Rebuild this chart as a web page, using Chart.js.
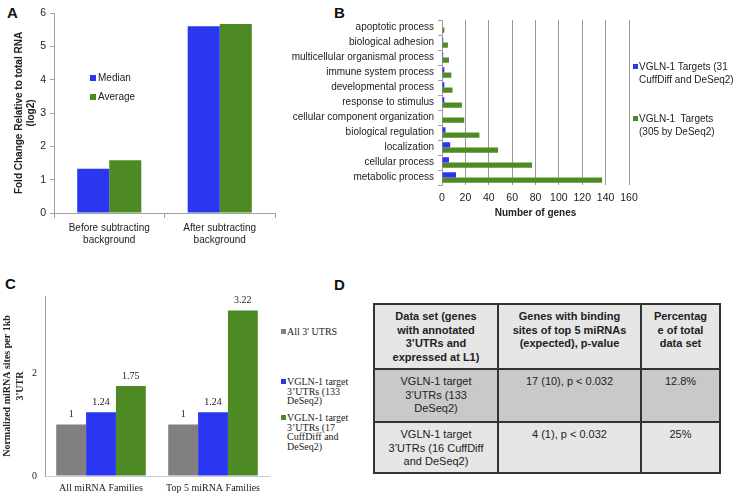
<!DOCTYPE html>
<html>
<head>
<meta charset="utf-8">
<script src="https://cdn.jsdelivr.net/npm/chart.js@4.4.1/dist/chart.umd.min.js"></script>
<style>
  html, body { margin:0; padding:0; background:#fff; width:733px; height:495px; overflow:hidden; }
  body { position:relative; font-family:"Liberation Sans", Arial, sans-serif; color:#222; }
  canvas { position:absolute; }
  .letter { position:absolute; font-weight:bold; font-size:15px; line-height:15px; color:#111; }
  .leg { position:absolute; font-size:10px; line-height:13px; white-space:nowrap; color:#222; }
  .sq { position:absolute; width:5px; height:5px; }
  .serif { font-family:"Liberation Serif", "Times New Roman", serif; line-height:9.5px; }
  table { position:absolute; left:373px; top:303px; border-collapse:collapse; font-size:11px; line-height:13.6px; color:#222; }
  td { border:2px solid #333; text-align:center; vertical-align:top; padding:5px 2px 0 2px; white-space:nowrap; box-sizing:border-box; }
  tr.h td { background:#e6e6e6; font-weight:bold; height:65px; }
  tr.r1 td { background:#c9c9c9; height:53px; }
  tr.r2 td { background:#e6e6e6; height:51px; }
</style>
</head>
<body>
<div class="letter" style="left:7px;top:5px;">A</div>
<div class="letter" style="left:334px;top:5px;">B</div>
<div class="letter" style="left:5px;top:276px;">C</div>
<div class="letter" style="left:334px;top:277px;">D</div>

<canvas id="cA" width="285" height="255" style="left:0;top:0;"></canvas>
<canvas id="cB" width="365" height="225" style="left:285px;top:0;"></canvas>
<canvas id="cC" width="280" height="225" style="left:0;top:270px;"></canvas>

<!-- Legend A -->
<div class="sq" style="left:90px;top:75px;width:6px;height:6px;background:#2b36f0;"></div>
<div class="leg" style="left:98px;top:71px;">Median</div>
<div class="sq" style="left:90px;top:94px;width:6px;height:6px;background:#4d8a24;"></div>
<div class="leg" style="left:98px;top:90px;">Average</div>

<!-- Legend B -->
<div class="sq" style="left:633px;top:64px;background:#2b36f0;"></div>
<div class="leg" style="left:639px;top:60px;">VGLN-1 Targets (31<br>CuffDiff and DeSeq2)</div>
<div class="sq" style="left:633px;top:116px;background:#4d8a24;"></div>
<div class="leg" style="left:639px;top:112px;">VGLN-1&nbsp; Targets<br>(305 by DeSeq2)</div>

<!-- Legend C -->
<div class="sq" style="left:281px;top:329px;background:#808080;"></div>
<div class="leg serif" style="left:287px;top:327px;">All 3' UTRS</div>
<div class="sq" style="left:281px;top:379px;background:#2b36f0;"></div>
<div class="leg serif" style="left:287px;top:377px;">VGLN-1 target<br>3’UTRs (133<br>DeSeq2)</div>
<div class="sq" style="left:281px;top:415px;background:#4d8a24;"></div>
<div class="leg serif" style="left:287px;top:413px;">VGLN-1 target<br>3’UTRs (17<br>CuffDiff and<br>DeSeq2)</div>

<!-- Table D -->
<table>
  <colgroup><col style="width:124px"><col style="width:143px"><col style="width:79px"></colgroup>
  <tr class="h">
    <td>Data set (genes<br>with annotated<br>3’UTRs and<br>expressed at L1)</td>
    <td>Genes with binding<br>sites of top 5 miRNAs<br>(expected), p-value</td>
    <td>Percentag<br>e of total<br>data set</td>
  </tr>
  <tr class="r1">
    <td>VGLN-1 target<br>3’UTRs (133<br>DeSeq2)</td>
    <td>17 (10), p &lt; 0.032</td>
    <td>12.8%</td>
  </tr>
  <tr class="r2">
    <td>VGLN-1 target<br>3’UTRs (16 CuffDiff<br>and DeSeq2)</td>
    <td>4 (1), p &lt; 0.032</td>
    <td>25%</td>
  </tr>
</table>

<script>
// ---------- DATA ----------
// Panel A
const aCategories = [["Before subtracting", "background"], ["After subtracting", "background"]];
const aMedian = [1.33, 5.6];
const aAverage = [1.58, 5.67];
const aTicks = [0, 1, 2, 3, 4, 5, 6];

// Panel B
const bCategories = ["apoptotic process", "biological adhesion", "multicellular organismal process",
  "immune system process", "developmental process", "response to stimulus",
  "cellular component organization", "biological regulation", "localization",
  "cellular process", "metabolic process"];
const bTargets31 = [0, 1, 1, 2, 2, 2, 0, 3, 7, 6, 12];
const bTargets305 = [2, 5, 6, 8, 9, 17, 19, 32, 48, 77, 137];
const bTicks = [0, 20, 40, 60, 80, 100, 120, 140, 160];

// Panel C
const cCategories = ["All miRNA Families", "Top 5 miRNA Families"];
const cAll3UTRs = [1, 1];
const cTargets133 = [1.24, 1.24];
const cTargets17 = [1.75, 3.22];
const cTicks = [0, 2];

// ---------- STYLE ----------
const BLUE = "#2b36f0", GREEN = "#4d8a24", GRAY = "#808080";
const SANS = "'Liberation Sans', Arial, sans-serif";
const SERIF = "'Liberation Serif', 'Times New Roman', serif";
const AXIS = "#a0a0a0";
Chart.defaults.color = "#222";

const base = { responsive: false, animation: false, devicePixelRatio: 1,
  plugins: { legend: { display: false }, tooltip: { enabled: false } } };

// ---------- A ----------
new Chart(document.getElementById("cA"), {
  type: "bar",
  data: { labels: aCategories, datasets: [
    { label: "Median", data: aMedian, backgroundColor: BLUE },
    { label: "Average", data: aAverage, backgroundColor: GREEN } ] },
  options: Object.assign({}, base, {
    layout: { padding: { top: 13, right: 10, left: 0, bottom: 0 } },
    datasets: { bar: { categoryPercentage: 0.58, barPercentage: 1 } },
    scales: {
      x: { grid: { offset: true, drawOnChartArea: false, tickLength: 5, color: AXIS },
           border: { color: AXIS },
           ticks: { font: { size: 10, family: SANS }, padding: 4, maxRotation: 0, minRotation: 0, autoSkip: false },
           afterFit: s => { s.height = 42; s.paddingLeft = 0; s.paddingRight = 0; } },
      y: { min: 0, max: 6,
           afterBuildTicks: s => { s.ticks = aTicks.map(v => ({ value: v })); },
           grid: { drawOnChartArea: false, tickLength: 4, color: AXIS },
           border: { color: AXIS },
           ticks: { font: { size: 10.5, family: SANS }, padding: 4 },
           title: { display: true, text: ["Fold Change Relative to total RNA", "(log2)"],
                    font: { size: 10, weight: "bold", family: SANS, lineHeight: 1.2 }, padding: { top: 13, bottom: 0 } },
           afterFit: s => { s.width = 54; s.paddingTop = 0; s.paddingBottom = 0; } }
    }
  })
});

// ---------- B ----------
new Chart(document.getElementById("cB"), {
  type: "bar",
  data: { labels: bCategories, datasets: [
    { label: "VGLN-1 Targets (31 CuffDiff and DeSeq2)", data: bTargets31, backgroundColor: BLUE },
    { label: "VGLN-1  Targets (305 by DeSeq2)", data: bTargets305, backgroundColor: GREEN } ] },
  options: Object.assign({}, base, {
    indexAxis: "y",
    layout: { padding: { top: 20, right: 21, left: 0, bottom: 0 } },
    datasets: { bar: { categoryPercentage: 0.7, barPercentage: 1 } },
    scales: {
      x: { min: 0, max: 160,
           afterBuildTicks: s => { s.ticks = bTicks.map(v => ({ value: v })); },
           grid: { drawTicks: false, color: "#999" },
           border: { display: false },
           ticks: { font: { size: 10.5, family: SANS }, padding: 7, maxRotation: 0, minRotation: 0 },
           title: { display: true, text: "Number of genes", font: { size: 10, weight: "bold", family: SANS }, padding: { top: 0, bottom: 6 } },
           afterFit: s => { s.height = 40; s.paddingLeft = 0; s.paddingRight = 0; } },
      y: { grid: { offset: true, drawOnChartArea: false, tickLength: 4, color: AXIS },
           border: { color: AXIS },
           ticks: { font: { size: 10, family: SANS }, padding: 4, autoSkip: false },
           afterFit: s => { s.width = 157; s.paddingTop = 0; s.paddingBottom = 0; } }
    }
  })
});

// ---------- C ----------
const valueLabels = {
  id: "valueLabels",
  afterDatasetsDraw(chart) {
    const ctx = chart.ctx;
    ctx.save();
    ctx.font = "10px " + SERIF;
    ctx.fillStyle = "#222";
    ctx.textAlign = "center";
    ctx.textBaseline = "bottom";
    chart.data.datasets.forEach((ds, i) => {
      chart.getDatasetMeta(i).data.forEach((el, j) => {
        ctx.fillText(String(ds.data[j]), el.x, el.y - 5);
      });
    });
    ctx.restore();
  }
};
new Chart(document.getElementById("cC"), {
  type: "bar",
  data: { labels: cCategories, datasets: [
    { label: "All 3' UTRS", data: cAll3UTRs, backgroundColor: GRAY },
    { label: "VGLN-1 target 3'UTRs (133 DeSeq2)", data: cTargets133, backgroundColor: BLUE },
    { label: "VGLN-1 target 3'UTRs (17 CuffDiff and DeSeq2)", data: cTargets17, backgroundColor: GREEN } ] },
  plugins: [valueLabels],
  options: Object.assign({}, base, {
    layout: { padding: { top: 26, right: 11, left: 0, bottom: 0 } },
    datasets: { bar: { categoryPercentage: 0.8, barPercentage: 1 } },
    scales: {
      x: { grid: { display: false, drawTicks: false }, border: { color: "#ccc" },
           ticks: { font: { size: 10, family: SERIF }, padding: 6, maxRotation: 0, minRotation: 0 },
           afterFit: s => { s.height = 19; s.paddingLeft = 0; s.paddingRight = 0; } },
      y: { min: 0, max: 3.5,
           afterBuildTicks: s => { s.ticks = cTicks.map(v => ({ value: v })); },
           grid: { drawOnChartArea: false, drawTicks: false },
           border: { color: AXIS },
           ticks: { font: { size: 10, family: SERIF }, padding: 8 },
           title: { display: true, text: ["Normalized miRNA sites per 1kb", "3'UTR"],
                    font: { size: 10, weight: "bold", family: SERIF, lineHeight: 1.3 }, padding: { top: 1, bottom: 0 } },
           afterFit: s => { s.width = 45; s.paddingTop = 0; s.paddingBottom = 0; } }
    }
  })
});
</script>
</body>
</html>
